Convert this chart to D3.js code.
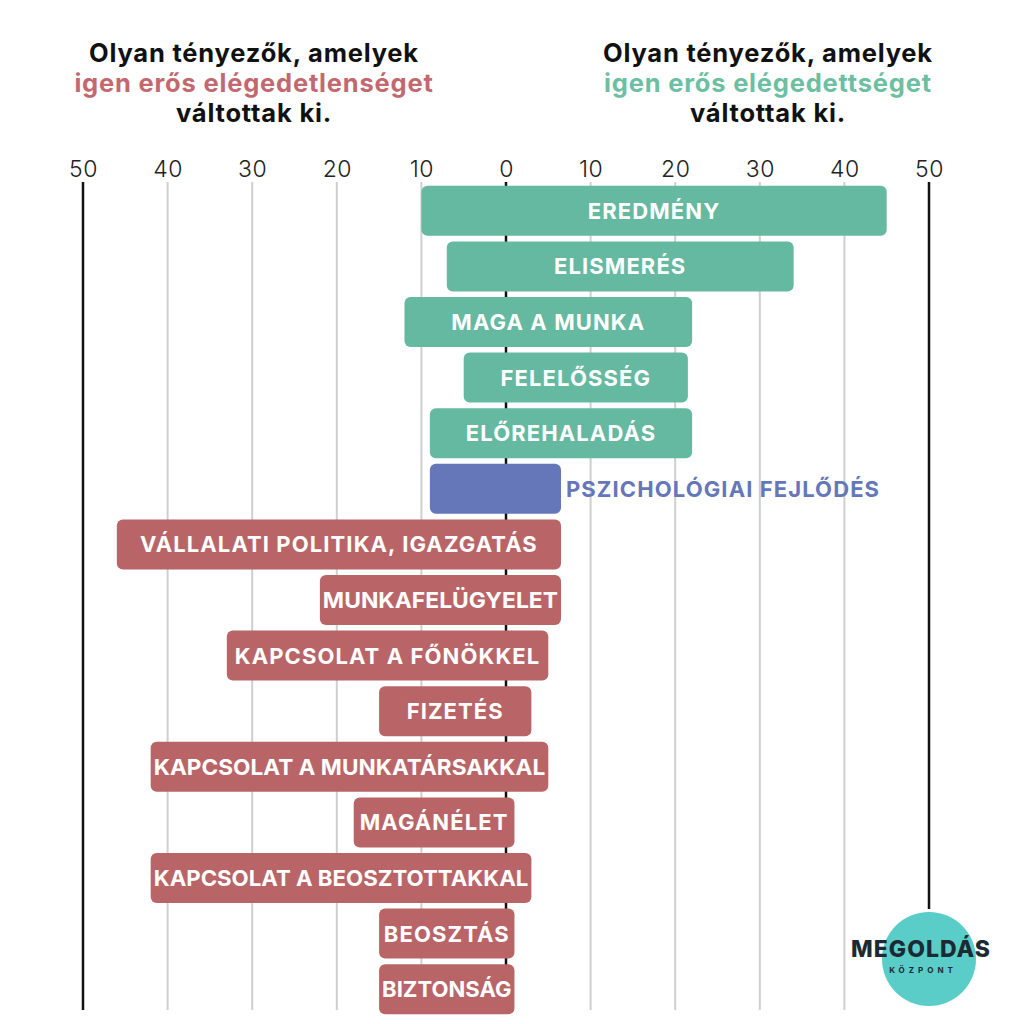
<!DOCTYPE html>
<html><head><meta charset="utf-8">
<script src="https://cdn.jsdelivr.net/npm/d3@7"></script>
<style>
body{margin:0;background:#fff;}
svg{display:block;}
</style></head>
<body>
<svg id="chart" width="1014" height="1024"></svg>
<script>
const categories = ["EREDMÉNY","ELISMERÉS","MAGA A MUNKA","FELELŐSSÉG","ELŐREHALADÁS","PSZICHOLÓGIAI FEJLŐDÉS","VÁLLALATI POLITIKA, IGAZGATÁS","MUNKAFELÜGYELET","KAPCSOLAT A FŐNÖKKEL","FIZETÉS","KAPCSOLAT A MUNKATÁRSAKKAL","MAGÁNÉLET","KAPCSOLAT A BEOSZTOTTAKKAL","BEOSZTÁS","BIZTONSÁG"];
const dissatisfaction = [10, 7, 12, 5, 9, 9, 46, 22, 33, 15, 42, 18, 42, 15, 15];
const satisfaction   = [45, 34, 22, 21.5, 22, 6.5, 6.5, 6.5, 5, 3, 5, 1, 3, 1, 1];
const groups = ["mot","mot","mot","mot","mot","growth","hyg","hyg","hyg","hyg","hyg","hyg","hyg","hyg","hyg"];
const tickValues = [-50,-40,-30,-20,-10,0,10,20,30,40,50];
const titleLeft = ["Olyan tényezők, amelyek","igen erős elégedetlenséget","váltottak ki."];
const titleRight = ["Olyan tényezők, amelyek","igen erős elégedettséget","váltottak ki."];

const colors = {mot:"#65b9a0", growth:"#6577b9", hyg:"#b96567"};
const svg = d3.select("#chart");
const x = d3.scaleLinear().domain([-50,50]).range([83,929]);
const y = d3.scaleBand().domain(categories).range([183,1017]).paddingInner(0.1).paddingOuter(0.05);

// titles
function title(lines, cx, color){
  const t = svg.append("text").attr("text-anchor","middle")
    .style("font-family","Inter, sans-serif").style("font-weight",700)
    .style("font-size","25.5px").style("letter-spacing","0.8px");
  lines.forEach((l,i)=>{
    t.append("tspan").attr("x",cx).attr("y",62+i*30).text(l)
     .attr("fill", i===1?color:"#111");
  });
}
title(titleLeft, 254, "#c2696f");
title(titleRight, 768, "#6cbfa1");

// gridlines
const grid = svg.append("g");
tickValues.forEach(v=>{
  const strong = (v===0||Math.abs(v)===50);
  grid.append("line")
    .attr("x1",x(v)).attr("x2",x(v))
    .attr("y1",182).attr("y2", v===50?909:1010)
    .attr("stroke", strong?"#111":"#cfcfcf")
    .attr("stroke-width", strong?2.5:2);
});

// axis labels
const axis = d3.axisTop(x).tickValues(tickValues).tickFormat(d=>Math.abs(d)).tickSize(0).tickPadding(0);
const ag = svg.append("g").attr("transform","translate(0,177)").call(axis);
ag.select(".domain").remove();
ag.selectAll("text").style("font-family","Inter, sans-serif").style("font-weight",300)
  .style("font-size","23px").style("letter-spacing","0.5px").attr("fill","#222");

// bars
const data = categories.map((c,i)=>({c, lo:-dissatisfaction[i], hi:satisfaction[i], g:groups[i]}));
svg.append("g").selectAll("rect").data(data).join("rect")
  .attr("x",d=>x(d.lo)).attr("width",d=>x(d.hi)-x(d.lo))
  .attr("y",d=>y(d.c)).attr("height",y.bandwidth())
  .attr("rx",6).attr("fill",d=>colors[d.g]);

svg.append("g").selectAll("text").data(data).join("text")
  .attr("x",d=>d.g==="growth"? x(d.hi)+5 : (x(d.lo)+x(d.hi))/2)
  .attr("y",d=>y(d.c)+y.bandwidth()/2)
  .attr("dy","0.36em")
  .attr("text-anchor",d=>d.g==="growth"?"start":"middle")
  .attr("fill",d=>d.g==="growth"?colors.growth:"#fff")
  .style("font-family","Inter, sans-serif").style("font-weight",700)
  .style("font-size","22px").style("letter-spacing","1.1px")
  .text(d=>d.c)
  .each(function(d){
    if(d.g==="growth") return;
    const avail = x(d.hi)-x(d.lo)-6;
    const len = this.getComputedTextLength();
    if(len>avail){
      d3.select(this).style("letter-spacing","0px")
        .attr("textLength",avail).attr("lengthAdjust","spacingAndGlyphs");
    }
  });

// logo
const lg = svg.append("g").attr("transform","translate(929,959)");
lg.append("circle").attr("r",47).attr("fill","#5acdc8");
lg.append("text").attr("text-anchor","middle").attr("x",-8).attr("y",-2)
  .style("font-family","Inter, sans-serif").style("font-weight",800).style("font-size","23px")
  .style("letter-spacing","1px").attr("fill","#1b2a33").text("MEGOLDÁS");
lg.append("text").attr("text-anchor","middle").attr("x",-6).attr("y",14)
  .style("font-family","Inter, sans-serif").style("font-weight",700).style("font-size","8px")
  .style("letter-spacing","4px").attr("fill","#1b2a33").text("KÖZPONT");
</script>
</body></html>
